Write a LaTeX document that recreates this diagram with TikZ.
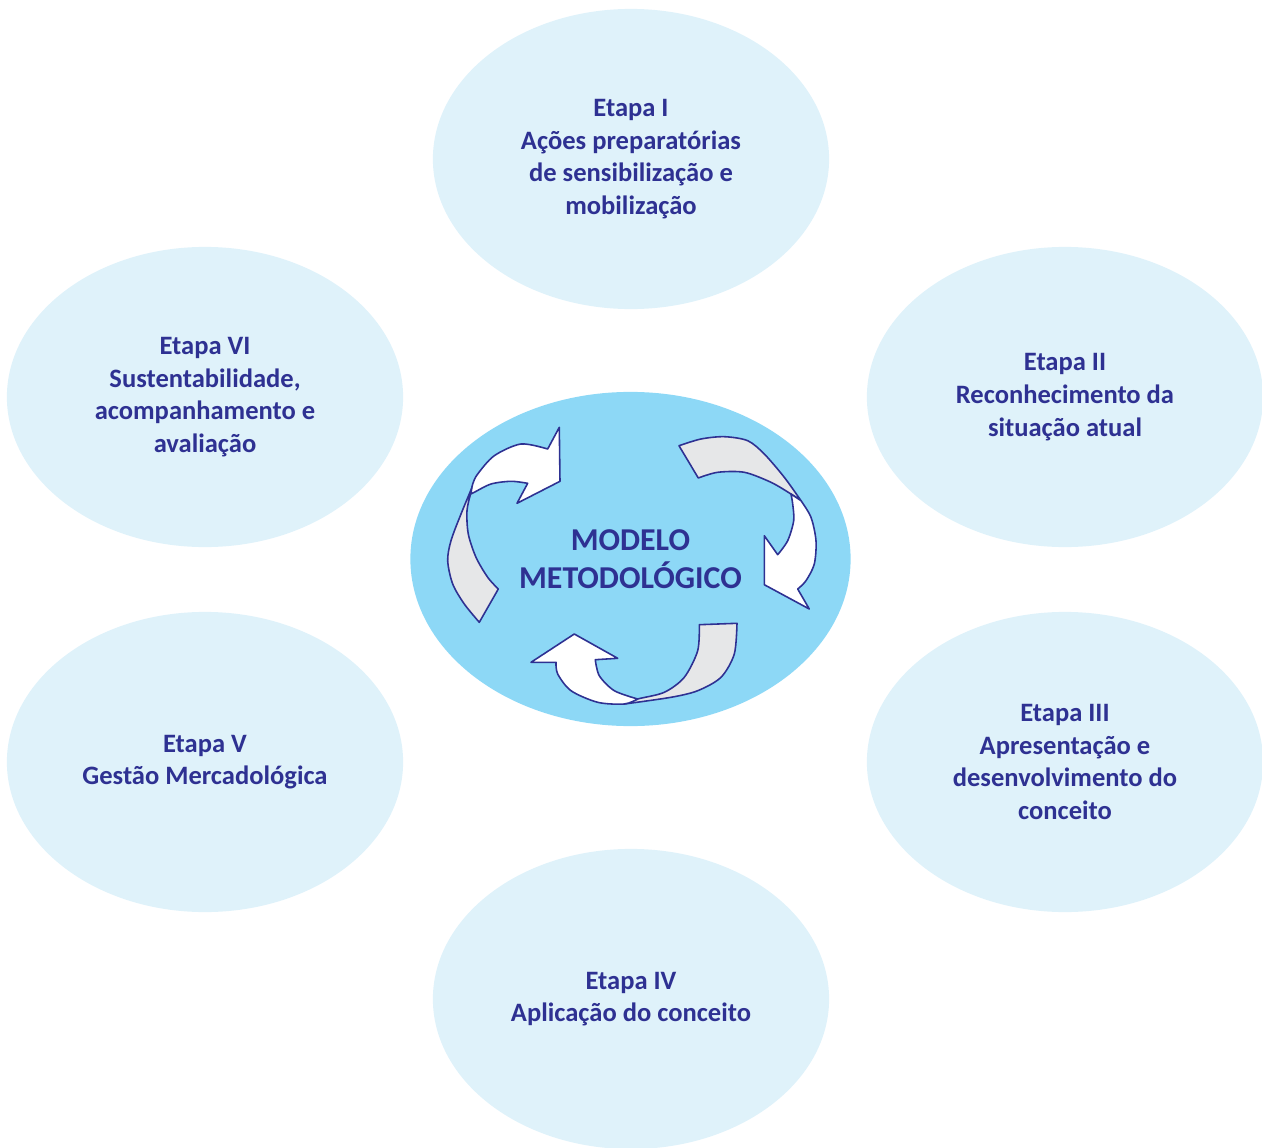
\documentclass[tikz,border=0pt]{standalone}
\usepackage{fontspec}
\setmainfont{Carlito}
\usepackage{tikz}
\usetikzlibrary{shapes.geometric,positioning}

\definecolor{azul}{HTML}{2E3192}
\definecolor{fundoetapa}{HTML}{DFF2FA}
\definecolor{fundomodelo}{HTML}{8DD8F6}
\definecolor{cinza}{HTML}{E6E7E8}

\tikzset{
  etapa/.style={ellipse,fill=fundoetapa,minimum width=3.96cm,minimum height=3cm,inner sep=0pt,align=center,text=azul,font=\fontsize{7.55}{9.3}\selectfont\bfseries},
  modelo/.style={ellipse,fill=fundomodelo,minimum width=4.4cm,minimum height=3.34cm,inner sep=0pt,align=center,text=azul,font=\fontsize{9.05}{10.8}\selectfont\bfseries},
  seta/.style={draw=azul,line width=0.45pt,fill=white,line join=round},
  setaverso/.style={seta,fill=cinza}
}

\begin{document}
\begin{tikzpicture}[x=0.01cm,y=-0.01cm]
  \useasboundingbox (0,0) rectangle (1262,1148);

  \node (etapa1) [etapa] at (631,159) {Etapa I\\Ações preparatórias\\de sensibilização e\\mobilização};
  \node (etapa2) [etapa] at (1065,397) {Etapa II\\Reconhecimento da\\situação atual};
  \node (etapa3) [etapa] at (1065,762) {Etapa III\\Apresentação e\\desenvolvimento do\\conceito};
  \node (etapa4) [etapa] at (631,999) {Etapa IV\\Aplicação do conceito};
  \node (etapa5) [etapa] at (205,762) {Etapa V\\Gestão Mercadológica};
  \node (etapa6) [etapa] at (205,397) {Etapa VI\\Sustentabilidade,\\acompanhamento e\\avaliação};

  \node (modelo) [modelo] at (630.5,559) {MODELO\\METODOLÓGICO};

  % seta da esquerda
  \draw[setaverso] (479.3,622.3) -- (498.3,589)
    -- plot[smooth] coordinates {(498.3,589) (487.7,577.3) (476,557.3) (468.3,534) (467,510.7) (471,492.3) (474.3,482)}
    -- plot[smooth] coordinates {(474.3,482) (461,514) (451,540.7) (447.7,560.7) (452.7,584) (464.3,604) (479.3,622.3)}
    -- cycle;
  \draw[seta] plot[smooth] coordinates {(471,494) (472.7,484) (477.7,474) (494.3,455.7) (521,444) (547.7,449)}
    -- (559.3,427.3) -- (560,481.3) -- (517,503.3) -- (527.7,483.3)
    -- plot[smooth] coordinates {(527.7,483.3) (511,481.3) (491,484) (474.3,492.3) (471,494)}
    -- cycle;

  % seta da direita
  \draw[setaverso] (679,445.7) -- (698.3,478)
    -- plot[smooth] coordinates {(698.3,478) (717.7,472.3) (744.3,472.3) (771,482.3) (791,494) (801,500.7)}
    -- plot[smooth] coordinates {(801,500.7) (784.3,477.3) (764.3,454) (747.7,440.7) (724.3,436.7) (701,439) (679,445.7)}
    -- cycle;
  \draw[seta] plot[smooth] coordinates {(801,500.7) (811,517.3) (816,540.7) (814.3,564) (806,580.7) (797.7,589)}
    -- (809.3,609) -- (764.3,584.7) -- (764.3,535.7) -- (777.7,554.7)
    -- plot[smooth] coordinates {(777.7,554.7) (787.7,540.7) (793.7,520.7) (792.7,504) (791,494)}
    -- cycle;

  % seta de baixo
  \draw[setaverso] (699.3,624.7) -- (737,623.3)
    -- plot[smooth] coordinates {(737,623.3) (734.3,654) (721,677.3) (697.7,690.7) (671,697.3) (624.3,704)}
    -- plot[smooth] coordinates {(624.3,704) (637.7,699) (664.3,692.3) (684.3,677.3) (697.7,650.7) (699.3,624.7)}
    -- cycle;
  \draw[seta] plot[smooth] coordinates {(637.7,699) (624.3,704) (597.7,702.3) (571,690.7) (557.7,674) (556,662.3)}
    -- (531,662.3) -- (574.3,634) -- (617.7,658.3) -- (595.3,659.7)
    -- plot[smooth] coordinates {(595.3,659.7) (599.3,675.7) (614.3,690.7) (637.7,699)}
    -- cycle;
\end{tikzpicture}
\end{document}
